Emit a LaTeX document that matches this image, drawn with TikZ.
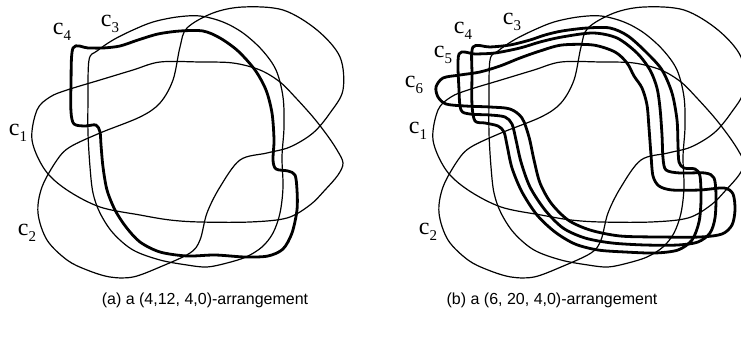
\documentclass[tikz,border=0pt]{standalone}
\usepackage{fontspec}
\setmainfont{Liberation Serif}
\newfontfamily\capfont{Liberation Sans}
\newcommand{\curvelab}[1]{c\raisebox{-6pt}{\fontsize{15}{15}\selectfont #1}}
% the three thin curves c1, c2, c3 shared by both arrangements
\newcommand{\thincurves}{%
  % c1
  \draw[thincurve] plot[smooth cycle, tension=0.55] coordinates {
    (32,140) (37,110) (50,97) (67,90) (100,80) (133,70) (160,62) (200,62)
    (233,63) (260,70) (280,82) (295,97) (313,117) (327,135) (337,150)
    (343,163) (338,175) (325,190) (310,205) (287,218) (250,222) (200,222)
    (170,220) (140,215) (100,207) (67,190) (45,170)};
  % c2
  \draw[thincurve] plot[smooth cycle, tension=0.55] coordinates {
    (187,28) (180,47) (173,80) (160,103) (140,117) (100,133) (70,147)
    (57,160) (42,187) (38,213) (47,240) (67,260) (87,270) (110,277)
    (133,277) (160,267) (190,253) (200,240) (207,213) (220,187) (240,160)
    (267,153) (290,147) (313,133) (330,113) (343,90) (340,57) (317,30)
    (283,10) (243,7) (213,13)};
  % c3
  \draw[thincurve] plot[smooth cycle, tension=0.55] coordinates {
    (89,60) (97,51) (113,40) (133,30) (153,22) (177,17) (200,16) (223,22)
    (243,33) (262,50) (276,70) (283,97) (284,127) (282,157) (283,187)
    (280,213) (273,233) (262,247) (246,257) (227,263) (207,267) (187,265)
    (160,260) (133,250) (113,233) (100,213) (93,193) (90,167) (88,133)
    (88,100)};
}
\begin{document}
\begin{tikzpicture}[x=1pt, y=-1pt,
  thincurve/.style={line width=1.2pt, line join=round},
  thickcurve/.style={line width=2.8pt, line join=round},
  curvelabel/.style={inner sep=0pt, font=\fontsize{24}{24}\selectfont},
  captiontext/.style={inner sep=0pt, font=\capfont\fontsize{16}{18}\selectfont}]
\useasboundingbox[fill=white] (0,0) rectangle (741,339);

% ---------- (a) ----------
\thincurves
% c4
\draw[thickcurve] plot[smooth cycle, tension=0.5] coordinates {
  (73,48) (88,48) (103,48) (120,46) (138,40) (158,34) (180,31) (203,31)
  (220,38) (238,51) (255,70) (266,90) (272,113) (274,140) (273,160)
  (276,169) (288,171) (295,175) (297,190) (297,210) (292,233) (283,249)
  (268,256) (245,257) (215,255) (187,256) (160,252) (140,242) (126,227)
  (115,210) (107,190) (103,167) (101,145) (100,132) (96,125) (85,126)
  (74,124) (71,112) (71,85)};

\node[curvelabel] (a4) at (62,32) {\curvelab{4}};
\node[curvelabel] (a3) at (110,24) {\curvelab{3}};
\node[curvelabel] (a1) at (18,133) {\curvelab{1}};
\node[curvelabel] (a2) at (27,233) {\curvelab{2}};

% ---------- (b) ----------
\begin{scope}
\clip (0,0) rectangle (741,339);
\begin{scope}[shift={(401,0)}]
\thincurves
\end{scope}
% c4
\draw[thickcurve] plot[smooth cycle, tension=0.5] coordinates {
  (473,47) (490,47) (510,45) (530,40) (545,35) (562,31) (587,28) (610,28)
  (628,36) (647,53) (662,70) (672,93) (677,120) (678,145) (679,162)
  (684,168) (695,169) (700,176) (701,200) (699,222) (692,240) (678,250)
  (655,253) (625,252) (598,250) (575,244) (555,232) (537,215) (522,192)
  (512,168) (507,145) (504,132) (498,126) (485,123) (475,121) (472,105)
  (472,75)};
% c5
\draw[thickcurve] plot[smooth cycle, tension=0.5] coordinates {
  (459,54) (475,54) (495,53) (520,48) (540,42) (562,37) (593,33) (617,38)
  (637,53) (650,70) (657,88) (660,108) (662,135) (663,158) (666,170)
  (680,173) (705,173) (714,178) (716,195) (715,218) (710,233) (698,242)
  (678,245) (645,245) (612,243) (585,238) (563,228) (545,210) (530,187)
  (521,162) (516,140) (512,124) (505,117) (490,115) (470,114) (461,110)
  (459,90)};
% c6
\draw[thickcurve] plot[smooth cycle, tension=0.5] coordinates {
  (443,78) (460,75) (480,72) (500,66) (520,58) (540,51) (562,45) (593,45)
  (615,52) (627,63) (634,76) (642,88) (647,105) (649,128) (651,155)
  (653,176) (659,186) (672,190) (700,190) (724,188) (733,194) (735,210)
  (732,225) (722,234) (700,237) (660,237) (620,236) (590,230) (568,220)
  (551,203) (540,183) (534,160) (529,137) (522,118) (510,109) (490,107)
  (465,106) (446,104) (438,97) (436,87)};
\end{scope}

\node[curvelabel] (b4) at (463,31) {\curvelab{4}};
\node[curvelabel] (b5) at (443,55) {\curvelab{5}};
\node[curvelabel] (b6) at (414,85) {\curvelab{6}};
\node[curvelabel] (b3) at (512,22) {\curvelab{3}};
\node[curvelabel] (b1) at (418,131) {\curvelab{1}};
\node[curvelabel] (b2) at (428,232) {\curvelab{2}};

% captions
\node[captiontext] (capa) at (205,300) {(a) a (4,12, 4,0)-arrangement};
\node[captiontext] (capb) at (552,300) {(b) a (6, 20, 4,0)-arrangement};
\end{tikzpicture}
\end{document}
